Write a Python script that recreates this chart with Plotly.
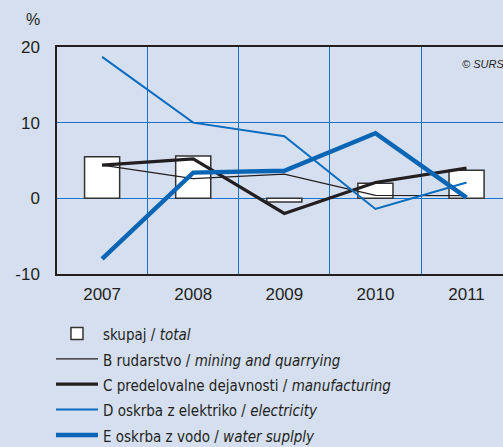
import plotly.graph_objects as go

years = [2007, 2008, 2009, 2010, 2011]
year_labels = ["2007", "2008", "2009", "2010", "2011"]
y_ticks = [-10, 0, 10, 20]
y_tick_labels = ["-10", "0", "10", "20"]
total = [5.5, 5.6, -0.5, 2.0, 3.7]
mining = [4.4, 2.6, 3.2, 0.4, 0.35]
manufacturing = [4.4, 5.2, -2.0, 2.1, 4.0]
electricity = [18.7, 10.0, 8.2, -1.4, 2.1]
water = [-8.0, 3.4, 3.65, 8.6, 0.1]

names = [
    "skupaj / <i>total</i>",
    "B rudarstvo / <i>mining and quarrying</i>",
    "C predelovalne dejavnosti / <i>manufacturing</i>",
    "D oskrba z elektriko / <i>electricity</i>",
    "E oskrba z vodo / <i>water suplply</i>",
]


def lg(n):
    return '<span style="font-size:15px">' + n + '</span>'


BG = "#d5dff0"
GRID = "#1a72c4"

fig = go.Figure()
fig.add_trace(go.Bar(x=years, y=total, name=lg(names[0]), width=0.385,
                     marker=dict(color="white", line=dict(color="#333333", width=1.5))))
fig.add_trace(go.Scatter(x=years, y=mining, name=lg(names[1]), mode="lines",
                         line=dict(color="#231f20", width=1.3)))
fig.add_trace(go.Scatter(x=years, y=manufacturing, name=lg(names[2]), mode="lines",
                         line=dict(color="#231f20", width=3.2)))
fig.add_trace(go.Scatter(x=years, y=electricity, name=lg(names[3]), mode="lines",
                         line=dict(color="#0a6cbf", width=2)))
fig.add_trace(go.Scatter(x=years, y=water, name=lg(names[4]), mode="lines",
                         line=dict(color="#0a66b4", width=4.5)))

fig.update_layout(
    width=503, height=447,
    paper_bgcolor=BG, plot_bgcolor=BG,
    margin=dict(l=57, r=0, t=47, b=173, autoexpand=False),
    font=dict(family="Liberation Sans, Arial, sans-serif", color="#231f20"),
    showlegend=True,
    legend=dict(x=-0.0135, y=-0.184, xanchor="left", yanchor="top", xref="paper",
                bgcolor="rgba(0,0,0,0)", traceorder="normal",
                font=dict(family="Liberation Sans Narrow, Arial Narrow, DejaVu Sans Condensed, sans-serif",
                          size=17.2, color="#231f20"),
                itemwidth=42, tracegroupgap=0),
    xaxis=dict(range=[2006.505, 2011.4], tickvals=years, ticktext=year_labels,
               showgrid=False, zeroline=False, showline=True, mirror=True,
               linecolor="#231f20", linewidth=1.5, ticks="", ticklabelstandoff=4,
               tickfont=dict(size=17),
               minor=dict(tickvals=[2007.5, 2008.5, 2009.5, 2010.5], showgrid=True,
                          gridcolor=GRID, gridwidth=1, ticks="")),
    yaxis=dict(range=[-10, 20], tickvals=y_ticks, ticktext=y_tick_labels, showgrid=True,
               gridcolor=GRID, gridwidth=1, zeroline=False, showline=True,
               linecolor="#231f20", linewidth=1.5, ticks="", ticklabelstandoff=12,
               tickfont=dict(size=17)),
    annotations=[
        dict(text="%", x=-24 / 446, y=1 + 27 / 227, xref="paper", yref="paper",
             showarrow=False, font=dict(size=16), xanchor="center", yanchor="middle"),
        dict(text="<i>© SURS</i>", x=(460 - 57) / 446, y=1 - 17 / 227, xref="paper",
             yref="paper", showarrow=False, font=dict(size=11),
             xanchor="left", yanchor="middle"),
    ],
)
fig.write_html("out.html", config={"displayModeBar": False},
               post_script="document.body.style.margin='0';document.body.style.overflow='hidden';")
